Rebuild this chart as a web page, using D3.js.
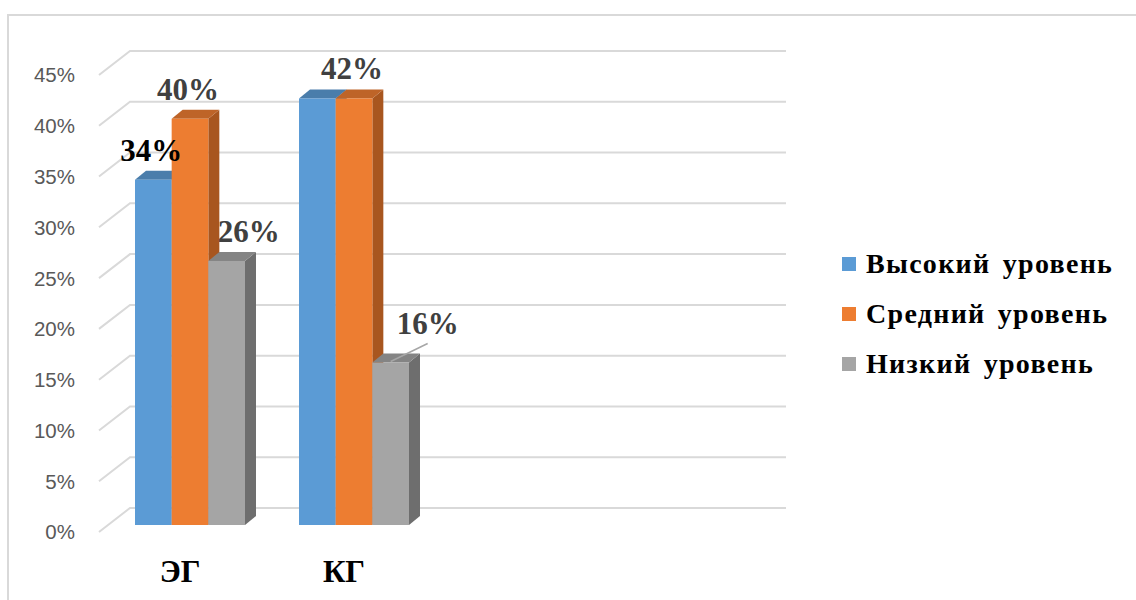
<!DOCTYPE html>
<html><head><meta charset="utf-8">
<script src="https://cdn.jsdelivr.net/npm/d3@7"></script>
<style>body{margin:0;background:#fff}svg{display:block}</style>
</head><body>
<svg id="c" width="1136" height="600"></svg>
<script>
const categories = ["ЭГ", "КГ"];
const seriesNames = ["Высокий уровень", "Средний уровень", "Низкий уровень"];
const high = [0.34, 0.42];
const mid = [0.40, 0.42];
const low = [0.26, 0.16];
const tickValues = [0, 0.05, 0.10, 0.15, 0.20, 0.25, 0.30, 0.35, 0.40, 0.45];
const slots = 4; // category slots on the axis (only two are filled)

const seriesValues = [high, mid, low];
const frontColors = ["#5B9BD5", "#ED7D31", "#A5A5A5"];
const sideColors = ["#41719C", "#A8561F", "#6E6E6E"];
const topColors = ["#4A7DAB", "#BE6428", "#848484"];

const svg = d3.select("#c");
// chart border
svg.append("rect").attr("x", 8).attr("y", 15).attr("width", 1140).attr("height", 600)
  .attr("fill", "none").attr("stroke", "#D9D9D9").attr("stroke-width", 2);

const y = d3.scaleLinear().domain([0, 0.45]).range([525, 68]);
const x = d3.scaleBand().domain(d3.range(slots)).range([108, 764]);
const sub = d3.scaleBand().domain(d3.range(3)).range([-55, 55]);

// back wall offset and front floor offset relative to bar plane
const back = {dx: 22, dy: -17}, frontOff = {dx: -9, dy: 7};
const depth = {dx: 11, dy: -9};

const grid = svg.append("g");
tickValues.forEach(v => {
  const yb = y(v) + back.dy, yf = y(v) + frontOff.dy;
  grid.append("path")
    .attr("d", `M${108 + frontOff.dx},${yf} L${108 + back.dx},${yb} L${764 + back.dx},${yb}`)
    .attr("fill", "none").attr("stroke", "#D9D9D9").attr("stroke-width", 2);
  grid.append("text").attr("x", 75).attr("y", yf + 2)
    .attr("text-anchor", "end").attr("dominant-baseline", "middle")
    .attr("font-family", "Liberation Sans, Arial, sans-serif").attr("font-size", 20.5)
    .attr("fill", "#595959").text(d3.format(".0%")(v));
});

// bars
const bars = svg.append("g");
categories.forEach((cat, ci) => {
  const cx = x(ci) + x.bandwidth() / 2;
  seriesValues.forEach((vals, si) => {
    const x0 = cx + sub(si), w = sub.bandwidth();
    const yt = y(vals[ci]), yb = y(0);
    bars.append("path").attr("d",
      `M${x0 + w},${yt} L${x0 + w + depth.dx},${yt + depth.dy} L${x0 + w + depth.dx},${yb + depth.dy} L${x0 + w},${yb} Z`)
      .attr("fill", sideColors[si]);
    bars.append("path").attr("d",
      `M${x0},${yt} L${x0 + depth.dx},${yt + depth.dy} L${x0 + w + depth.dx},${yt + depth.dy} L${x0 + w},${yt} Z`)
      .attr("fill", topColors[si]);
    bars.append("rect").attr("x", x0).attr("y", yt).attr("width", w).attr("height", yb - yt)
      .attr("fill", frontColors[si]);
  });
});

// data labels
const nudges = {"0-0": {dx: -2, dy: 0}, "1-0": {dx: -2, dy: 0}, "2-0": {dx: 22, dy: 0},
                "1-1": {dx: -2, dy: 0}, "2-1": {dx: 37, dy: -10, leader: true}};
const labels = svg.append("g");
categories.forEach((cat, ci) => {
  const cx = x(ci) + x.bandwidth() / 2;
  seriesValues.forEach((vals, si) => {
    const key = si + "-" + ci;
    if (!(key in nudges)) return; // label hidden behind neighbour
    const n = nudges[key];
    const bx = cx + sub(si) + sub.bandwidth() / 2;
    const yt = y(vals[ci]);
    const lx = bx + n.dx, ly = yt - 19 + n.dy;
    if (n.leader) {
      labels.append("line").attr("x1", bx).attr("y1", yt + depth.dy + 8)
        .attr("x2", lx).attr("y2", ly + 10).attr("stroke", "#A6A6A6").attr("stroke-width", 1.5);
    }
    labels.append("text").attr("x", lx).attr("y", ly).attr("text-anchor", "middle")
      .attr("font-family", "Liberation Serif, Times New Roman, serif").attr("font-weight", "bold")
      .attr("font-size", 31).attr("fill", key === "0-0" ? "#000" : "#404040")
      .text(d3.format(".0%")(vals[ci]));
  });
});

// category labels
categories.forEach((cat, ci) => {
  const cx = x(ci) + x.bandwidth() / 2;
  svg.append("text").attr("x", cx - 10).attr("y", 582).attr("text-anchor", "middle")
    .attr("font-family", "Liberation Serif, Times New Roman, serif").attr("font-weight", "bold")
    .attr("font-size", 31).attr("fill", "#000").text(cat);
});

// legend
const lg = svg.append("g").attr("transform", "translate(842,264)");
seriesNames.forEach((s, i) => {
  const g = lg.append("g").attr("transform", `translate(0,${i * 50})`);
  g.append("rect").attr("x", 0).attr("y", -7).attr("width", 14).attr("height", 14).attr("fill", frontColors[i]);
  g.append("text").attr("x", 24).attr("y", 9)
    .attr("font-family", "Liberation Serif, Times New Roman, serif").attr("font-weight", "bold")
    .attr("font-size", 28).attr("letter-spacing", 1.3).attr("word-spacing", 4)
    .attr("fill", "#000").text(s);
});
</script>
</body></html>
